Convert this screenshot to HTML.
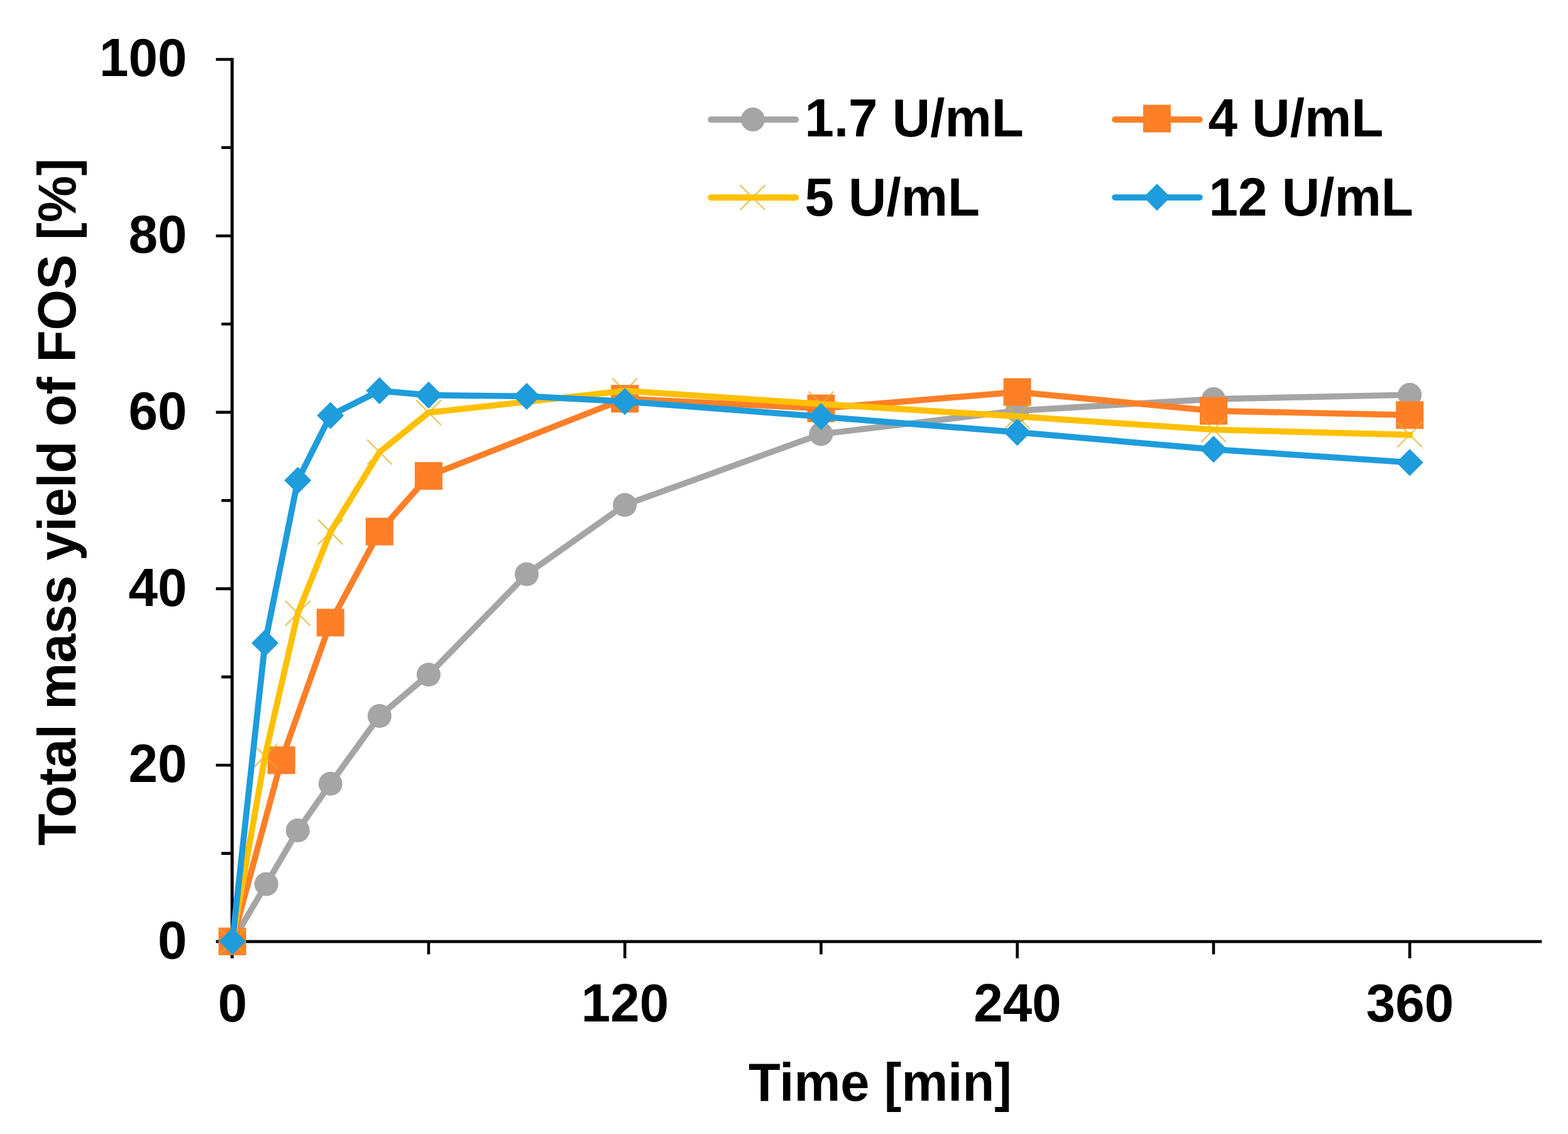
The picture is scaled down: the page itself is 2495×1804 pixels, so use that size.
<!DOCTYPE html>
<html lang="en">
<head>
<meta charset="utf-8">
<title>Total mass yield of FOS over time</title>
<style>
html,body{margin:0;padding:0;background:#fff;}
body{width:2495px;height:1804px;overflow:hidden;}
svg{display:block;}
text{font-family:"Liberation Sans",sans-serif;font-weight:bold;font-size:83.6px;fill:#000;}
</style>
</head>
<body>
<svg width="2495" height="1804" viewBox="0 0 2495 1804">
<rect width="2495" height="1804" fill="#fff"/>

<g stroke="#000" fill="none" stroke-linecap="butt">
<path d="M369.3 92.2V1524.5" stroke-width="5.0"/>
<path d="M343.6 1497.9H2453.3" stroke-width="4.8"/>
<path d="M352.3 1357.6H369.3M343.6 1217.3H369.3M352.3 1076.9H369.3M343.6 936.6H369.3M352.3 796.2H369.3M343.6 655.9H369.3M352.3 515.5H369.3M343.6 375.2H369.3M352.3 234.8H369.3M343.6 94.5H369.3" stroke-width="4.6"/>
<path d="M682 1497.6V1518.2M994.3 1497.6V1524.5M1306.5 1497.6V1518.2M1618.7 1497.6V1524.5M1931 1497.6V1518.2M2243.2 1497.6V1524.5" stroke-width="4.6"/>
</g>
<g>
<text transform="translate(297.6 1525) scale(1 1.03)" text-anchor="end">0</text>
<text transform="translate(297.6 1244.3) scale(1 1.03)" text-anchor="end">20</text>
<text transform="translate(297.6 963.5) scale(1 1.03)" text-anchor="end">40</text>
<text transform="translate(297.6 682.8) scale(1 1.03)" text-anchor="end">60</text>
<text transform="translate(297.6 402) scale(1 1.03)" text-anchor="end">80</text>
<text transform="translate(297.6 121.3) scale(1 1.03)" text-anchor="end">100</text>
</g>
<g>
<text transform="translate(370 1624.6) scale(1 1.03)" text-anchor="middle">0</text>
<text transform="translate(994.5 1624.6) scale(1 1.03)" text-anchor="middle">120</text>
<text transform="translate(1619 1624.6) scale(1 1.03)" text-anchor="middle">240</text>
<text transform="translate(2243.5 1624.6) scale(1 1.03)" text-anchor="middle">360</text>
</g>
<text transform="translate(1191 1750.5) scale(0.995 1.03)">Time [min]</text>
<text transform="translate(120.2 1345.3) rotate(-90) scale(0.999 1.03)">Total mass yield of FOS [%]</text>
<g>
<path d="M369.7 1497.6L423.8 1406.4L473.8 1321L525.8 1246.8L603.9 1139L682 1073.3L838.1 913.5L994.2 803.3L1306.5 690.5L1618.7 653.4L1931 634.9L2243.2 628.1" stroke="#A5A5A5" stroke-width="9.7" fill="none" stroke-linejoin="round" stroke-linecap="square"/>
<circle cx="369.7" cy="1497.6" r="19" fill="#A5A5A5"/>
<circle cx="423.8" cy="1406.4" r="19" fill="#A5A5A5"/>
<circle cx="473.8" cy="1321" r="19" fill="#A5A5A5"/>
<circle cx="525.8" cy="1246.8" r="19" fill="#A5A5A5"/>
<circle cx="603.9" cy="1139" r="19" fill="#A5A5A5"/>
<circle cx="682" cy="1073.3" r="19" fill="#A5A5A5"/>
<circle cx="838.1" cy="913.5" r="19" fill="#A5A5A5"/>
<circle cx="994.2" cy="803.3" r="19" fill="#A5A5A5"/>
<circle cx="1306.5" cy="690.5" r="19" fill="#A5A5A5"/>
<circle cx="1618.7" cy="653.4" r="19" fill="#A5A5A5"/>
<circle cx="1931" cy="634.9" r="19" fill="#A5A5A5"/>
<circle cx="2243.2" cy="628.1" r="19" fill="#A5A5A5"/>
</g>
<g>
<path d="M369.7 1497.6L447.8 1209.4L525.8 990.4L603.9 845.6L682 757.1L994.2 634.3L1306.5 649.6L1618.7 623.7L1931 653.6L2243.2 660.3" stroke="#FF7F27" stroke-width="9.7" fill="none" stroke-linejoin="round" stroke-linecap="square"/>
<rect x="347.7" y="1475.6" width="44" height="44" fill="#FF7F27"/>
<rect x="425.8" y="1187.4" width="44" height="44" fill="#FF7F27"/>
<rect x="503.8" y="968.4" width="44" height="44" fill="#FF7F27"/>
<rect x="581.9" y="823.6" width="44" height="44" fill="#FF7F27"/>
<rect x="660" y="735.1" width="44" height="44" fill="#FF7F27"/>
<rect x="972.2" y="612.3" width="44" height="44" fill="#FF7F27"/>
<rect x="1284.5" y="627.6" width="44" height="44" fill="#FF7F27"/>
<rect x="1596.7" y="601.7" width="44" height="44" fill="#FF7F27"/>
<rect x="1909" y="631.6" width="44" height="44" fill="#FF7F27"/>
<rect x="2221.2" y="638.3" width="44" height="44" fill="#FF7F27"/>
</g>
<g>
<path d="M349.9 1477.8L389.5 1517.4M349.9 1517.4L389.5 1477.8" stroke="#DBB029" stroke-opacity=".72" stroke-width="2.3" fill="none"/>
<path d="M401.9 1183L441.5 1222.6M401.9 1222.6L441.5 1183" stroke="#DBB029" stroke-opacity=".72" stroke-width="2.3" fill="none"/>
<path d="M454 955.8L493.6 995.4M454 995.4L493.6 955.8" stroke="#DBB029" stroke-opacity=".72" stroke-width="2.3" fill="none"/>
<path d="M506 826.5L545.6 866.1M506 866.1L545.6 826.5" stroke="#DBB029" stroke-opacity=".72" stroke-width="2.3" fill="none"/>
<path d="M584.1 699.4L623.7 739M584.1 739L623.7 699.4" stroke="#DBB029" stroke-opacity=".72" stroke-width="2.3" fill="none"/>
<path d="M662.2 636.6L701.8 676.2M662.2 676.2L701.8 636.6" stroke="#DBB029" stroke-opacity=".72" stroke-width="2.3" fill="none"/>
<path d="M974.4 601.9L1014 641.5M974.4 641.5L1014 601.9" stroke="#DBB029" stroke-opacity=".72" stroke-width="2.3" fill="none"/>
<path d="M1286.7 622.9L1326.3 662.5M1286.7 662.5L1326.3 622.9" stroke="#DBB029" stroke-opacity=".72" stroke-width="2.3" fill="none"/>
<path d="M1598.9 642.6L1638.5 682.2M1598.9 682.2L1638.5 642.6" stroke="#DBB029" stroke-opacity=".72" stroke-width="2.3" fill="none"/>
<path d="M1911.2 663.7L1950.8 703.3M1911.2 703.3L1950.8 663.7" stroke="#DBB029" stroke-opacity=".72" stroke-width="2.3" fill="none"/>
<path d="M2223.4 671.9L2263 711.5M2223.4 711.5L2263 671.9" stroke="#DBB029" stroke-opacity=".72" stroke-width="2.3" fill="none"/>
<path d="M369.7 1497.6L421.7 1202.8L473.8 975.6L525.8 846.3L603.9 719.2L682 656.4L994.2 621.7L1306.5 642.7L1618.7 662.4L1931 683.5L2243.2 691.7" stroke="#FFC000" stroke-width="9.7" fill="none" stroke-linejoin="round" stroke-linecap="square"/>
</g>
<g>
<path d="M369.7 1497.6L421.7 1023L473.8 764.2L525.8 660.9L603.9 621.6L682 628.6L838.1 630.4L994.2 638.7L1306.5 662.8L1618.7 687.7L1931 714.8L2243.2 735.7" stroke="#1E9CDC" stroke-width="9.7" fill="none" stroke-linejoin="round" stroke-linecap="square"/>
<path d="M369.7 1476.1L391.2 1497.6L369.7 1519.1L348.2 1497.6Z" fill="#1E9CDC"/>
<path d="M421.7 1001.5L443.2 1023L421.7 1044.5L400.2 1023Z" fill="#1E9CDC"/>
<path d="M473.8 742.7L495.3 764.2L473.8 785.7L452.3 764.2Z" fill="#1E9CDC"/>
<path d="M525.8 639.4L547.3 660.9L525.8 682.4L504.3 660.9Z" fill="#1E9CDC"/>
<path d="M603.9 600.1L625.4 621.6L603.9 643.1L582.4 621.6Z" fill="#1E9CDC"/>
<path d="M682 607.1L703.5 628.6L682 650.1L660.5 628.6Z" fill="#1E9CDC"/>
<path d="M838.1 608.9L859.6 630.4L838.1 651.9L816.6 630.4Z" fill="#1E9CDC"/>
<path d="M994.2 617.2L1015.7 638.7L994.2 660.2L972.7 638.7Z" fill="#1E9CDC"/>
<path d="M1306.5 641.3L1328 662.8L1306.5 684.3L1285 662.8Z" fill="#1E9CDC"/>
<path d="M1618.7 666.2L1640.2 687.7L1618.7 709.2L1597.2 687.7Z" fill="#1E9CDC"/>
<path d="M1931 693.3L1952.5 714.8L1931 736.3L1909.5 714.8Z" fill="#1E9CDC"/>
<path d="M2243.2 714.2L2264.7 735.7L2243.2 757.2L2221.7 735.7Z" fill="#1E9CDC"/>
</g>
<g><path d="M1131.3 190.3H1266.2" stroke="#A5A5A5" stroke-width="9.9" stroke-linecap="round" fill="none"/><circle cx="1198" cy="190.1" r="19" fill="#A5A5A5"/><text transform="translate(1280.4 217.4) scale(1 1.03)">1.7 U/mL</text></g>
<g><path d="M1774.3 190.3H1908.8" stroke="#FF7F27" stroke-width="9.9" stroke-linecap="round" fill="none"/><rect x="1819" y="166.6" width="44" height="44" fill="#FF7F27"/><text transform="translate(1922.6 217.4) scale(1 1.03)">4 U/mL</text></g>
<g><path d="M1177.7 294.4L1217.3 334M1177.7 334L1217.3 294.4" stroke="#DBB029" stroke-opacity=".72" stroke-width="2.3" fill="none"/><path d="M1131.3 314.2H1266.2" stroke="#FFC000" stroke-width="9.9" stroke-linecap="round" fill="none"/><text transform="translate(1280.4 342.6) scale(1 1.03)">5 U/mL</text></g>
<g><path d="M1774.3 314.1H1908.8" stroke="#1E9CDC" stroke-width="9.9" stroke-linecap="round" fill="none"/><path d="M1841 292.3L1862.5 313.8L1841 335.3L1819.5 313.8Z" fill="#1E9CDC"/><text transform="translate(1923.6 342.6) scale(1 1.03)">12 U/mL</text></g>
</svg>
</body>
</html>
